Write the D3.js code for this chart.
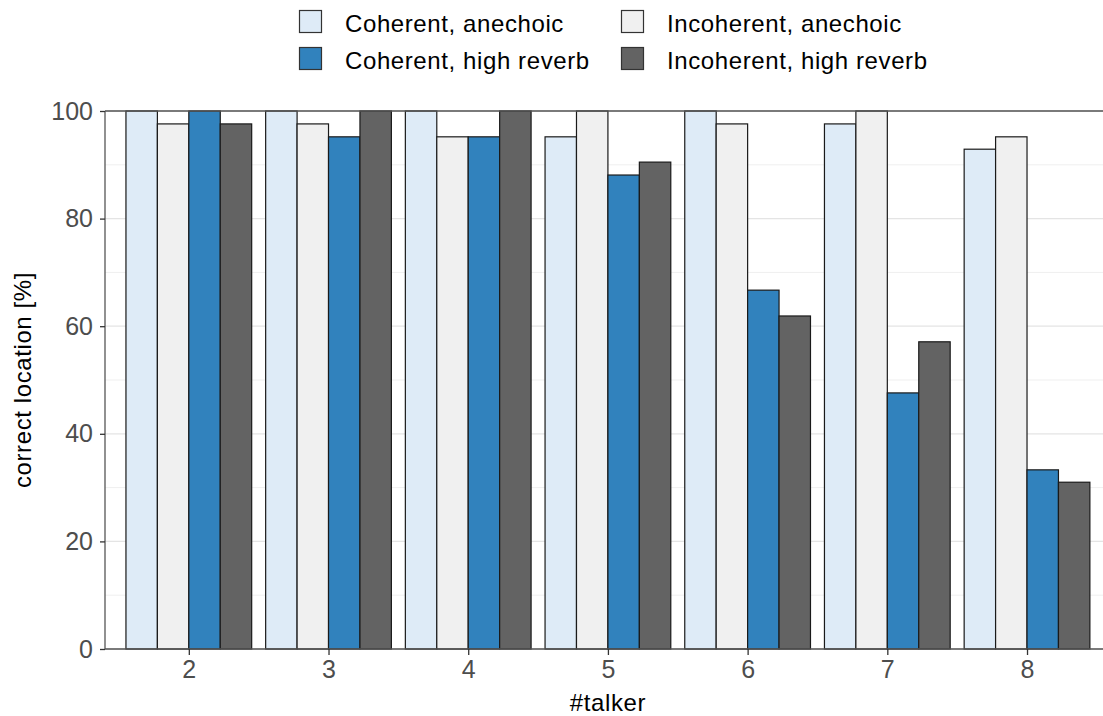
<!DOCTYPE html>
<html><head><meta charset="utf-8">
<script src="https://cdn.jsdelivr.net/npm/d3@7"></script>
<style>body{margin:0;background:#fff;} svg{display:block;font-family:"Liberation Sans",Arial,sans-serif;}</style>
</head><body>
<svg id="chart" width="1103" height="716"></svg>
<script>
const categories = ["2","3","4","5","6","7","8"];
const seriesNames = ["Coherent, anechoic","Incoherent, anechoic","Coherent, high reverb","Incoherent, high reverb"];
const coherentAnechoic   = [100, 100, 100, 95.2, 100, 97.6, 92.9];
const incoherentAnechoic = [97.6, 97.6, 95.2, 100, 97.6, 100, 95.2];
const coherentReverb     = [100, 95.2, 95.2, 88.1, 66.7, 47.6, 33.3];
const incoherentReverb   = [97.6, 100, 100, 90.5, 61.9, 57.1, 31.0];
const seriesColors = ["#deebf7","#f0f0f0","#3182bd","#636363"];
const yTicks = [0,20,40,60,80,100];
const yMinor = [10,30,50,70,90];

(function(){
const seriesValues = [coherentAnechoic, incoherentAnechoic, coherentReverb, incoherentReverb];
const data = [];
categories.forEach((c,i)=>seriesNames.forEach((s,j)=>data.push({cat:c, series:s, value:seriesValues[j][i]})));

const svg = d3.select("#chart");
const pLeft = 105, pTop = 111, pBottom = 649;
const step = 139.7;
const pRight = pLeft + 7.2*step;

const xc = d3.scalePoint().domain(categories).range([pLeft + 0.6*step, pLeft + 6.6*step]);
const groupW = 0.9*step;
const xs = d3.scaleBand().domain(seriesNames).range([-groupW/2, groupW/2]);
const y = d3.scaleLinear().domain([0,100]).range([pBottom, pTop]);
const color = d3.scaleOrdinal().domain(seriesNames).range(seriesColors);

// grid
svg.append("g").selectAll("line").data(yMinor).join("line")
  .attr("x1", pLeft).attr("x2", pRight).attr("y1", d=>y(d)).attr("y2", d=>y(d))
  .attr("stroke", "#efefef").attr("stroke-width", 1);
svg.append("g").selectAll("line").data(yTicks).join("line")
  .attr("x1", pLeft).attr("x2", pRight).attr("y1", d=>y(d)).attr("y2", d=>y(d))
  .attr("stroke", "#e4e4e4").attr("stroke-width", 1.3);

// bars
svg.append("g").selectAll("rect").data(data).join("rect")
  .attr("x", d=>xc(d.cat)+xs(d.series))
  .attr("width", xs.bandwidth())
  .attr("y", d=>y(d.value))
  .attr("height", d=>y(0)-y(d.value))
  .attr("fill", d=>color(d.series))
  .attr("stroke", "#1a1a1a").attr("stroke-width", 1.2);

// top border
svg.append("line").attr("x1", pLeft).attr("x2", pRight).attr("y1", pTop).attr("y2", pTop)
  .attr("stroke", "#555").attr("stroke-width", 1.3);

// axes
const yAxis = svg.append("g").attr("transform", `translate(${pLeft},0)`)
  .call(d3.axisLeft(y).tickValues(yTicks).tickSize(5).tickPadding(7));
const xAxis = svg.append("g").attr("transform", `translate(0,${pBottom})`)
  .call(d3.axisBottom(xc).tickSize(6).tickPadding(5));
[yAxis, xAxis].forEach(a=>{
  a.select(".domain").attr("stroke", "#555").attr("stroke-width", 1.3);
  a.selectAll(".tick line").attr("stroke", "#333").attr("stroke-width", 1.3);
  a.selectAll(".tick text").attr("fill", "#4d4d4d").style("font-size", "25px").style("font-family", "Liberation Sans, Arial, sans-serif");
});
yAxis.select(".domain").attr("d", `M0,${pBottom}V${pTop}`);
xAxis.select(".domain").attr("d", `M${pLeft},0H${pRight}`);

// titles
svg.append("text").attr("x", xc("5")).attr("y", 711).attr("text-anchor","middle")
  .style("font-size","24px").style("letter-spacing","0.6px").attr("fill","#000").text("#talker");
svg.append("text").attr("transform", `translate(31,${(pTop+pBottom)/2}) rotate(-90)`).attr("text-anchor","middle")
  .style("font-size","24px").style("letter-spacing","0.6px").attr("fill","#000").text("correct location [%]");

// legend
const legendPos = [[299,10],[621,10],[299,47],[621,47]];
const lg = svg.append("g").selectAll("g").data(seriesNames).join("g")
  .attr("transform", (d,i)=>`translate(${legendPos[i][0]},${legendPos[i][1]})`);
lg.append("rect").attr("x",0.5).attr("y",0.5).attr("width",22).attr("height",22)
  .attr("fill", d=>color(d)).attr("stroke","#333").attr("stroke-width",1.2);
lg.append("text").attr("x",46).attr("y",21.5).style("font-size","24px").style("letter-spacing","0.6px").attr("fill","#000").text(d=>d);
})();
</script>
</body></html>
